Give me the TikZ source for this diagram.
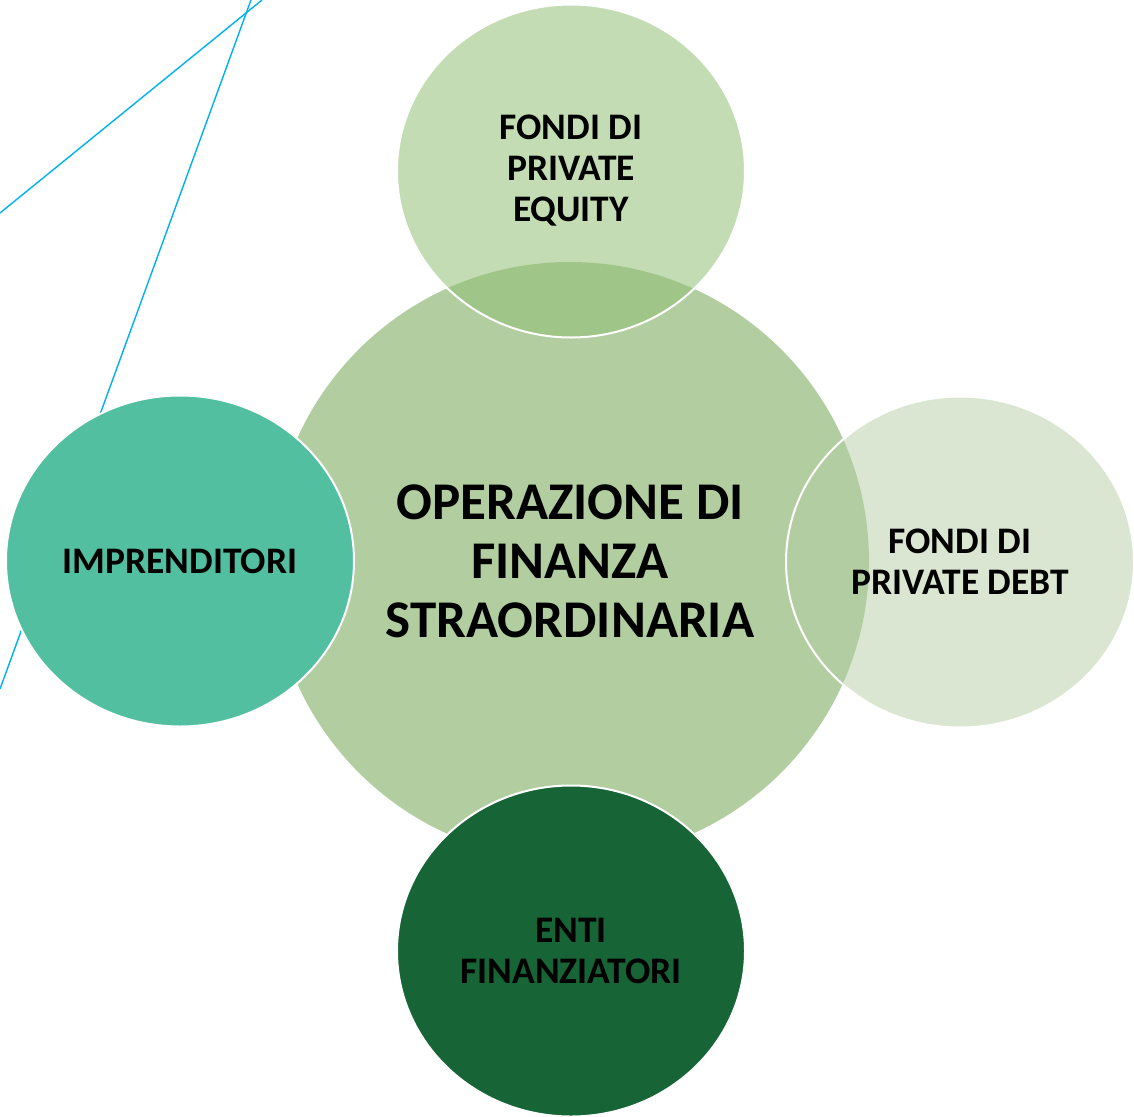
\documentclass[tikz,border=0pt]{standalone}
\usepackage{fontspec}
\setmainfont{Carlito}
\usetikzlibrary{shapes.geometric}
\definecolor{cmain}{RGB}{178,206,161}
\definecolor{ctop}{RGB}{147,191,119}
\definecolor{cright}{RGB}{181,205,165}
\definecolor{cleft}{RGB}{82,191,160}
\definecolor{cbottom}{RGB}{23,100,54}
\definecolor{cline}{RGB}{0,176,240}
\tikzset{
  bubble/.style={ellipse, inner sep=0pt, minimum width=348pt, minimum height=331pt,
    draw=white, line width=2pt, text opacity=1, align=center,
    font=\bfseries\fontsize{37.5}{41}\selectfont},
  blueline/.style={draw=cline, line width=1.4pt},
}
\begin{document}
\begin{tikzpicture}[x=1pt,y=-1pt]
\useasboundingbox (0,0) rectangle (1134,1116);
\begin{scope}
\clip (0,0) rectangle (1134,1116);
\draw[blueline] (262,0) -- (0,213);
\draw[blueline] (251,0) -- (0,689);
\node[circle, inner sep=0pt, minimum size=598pt, fill=cmain, align=center,
  font=\bfseries\fontsize{53}{59}\selectfont] (main) at (570,561)
  {OPERAZIONE DI\\FINANZA\\STRAORDINARIA};
\node[bubble, fill=ctop, fill opacity=0.55, minimum height=333pt] (pe) at (571,171)
  {FONDI DI\\PRIVATE\\EQUITY};
\node[bubble, fill=cright, fill opacity=0.5] (pd) at (960,562)
  {FONDI DI\\PRIVATE DEBT};
\node[bubble, fill=cleft] (imp) at (180,561) {IMPRENDITORI};
\node[bubble, fill=cbottom] (enti) at (571,951) {ENTI\\FINANZIATORI};
\end{scope}
\end{tikzpicture}
\end{document}
